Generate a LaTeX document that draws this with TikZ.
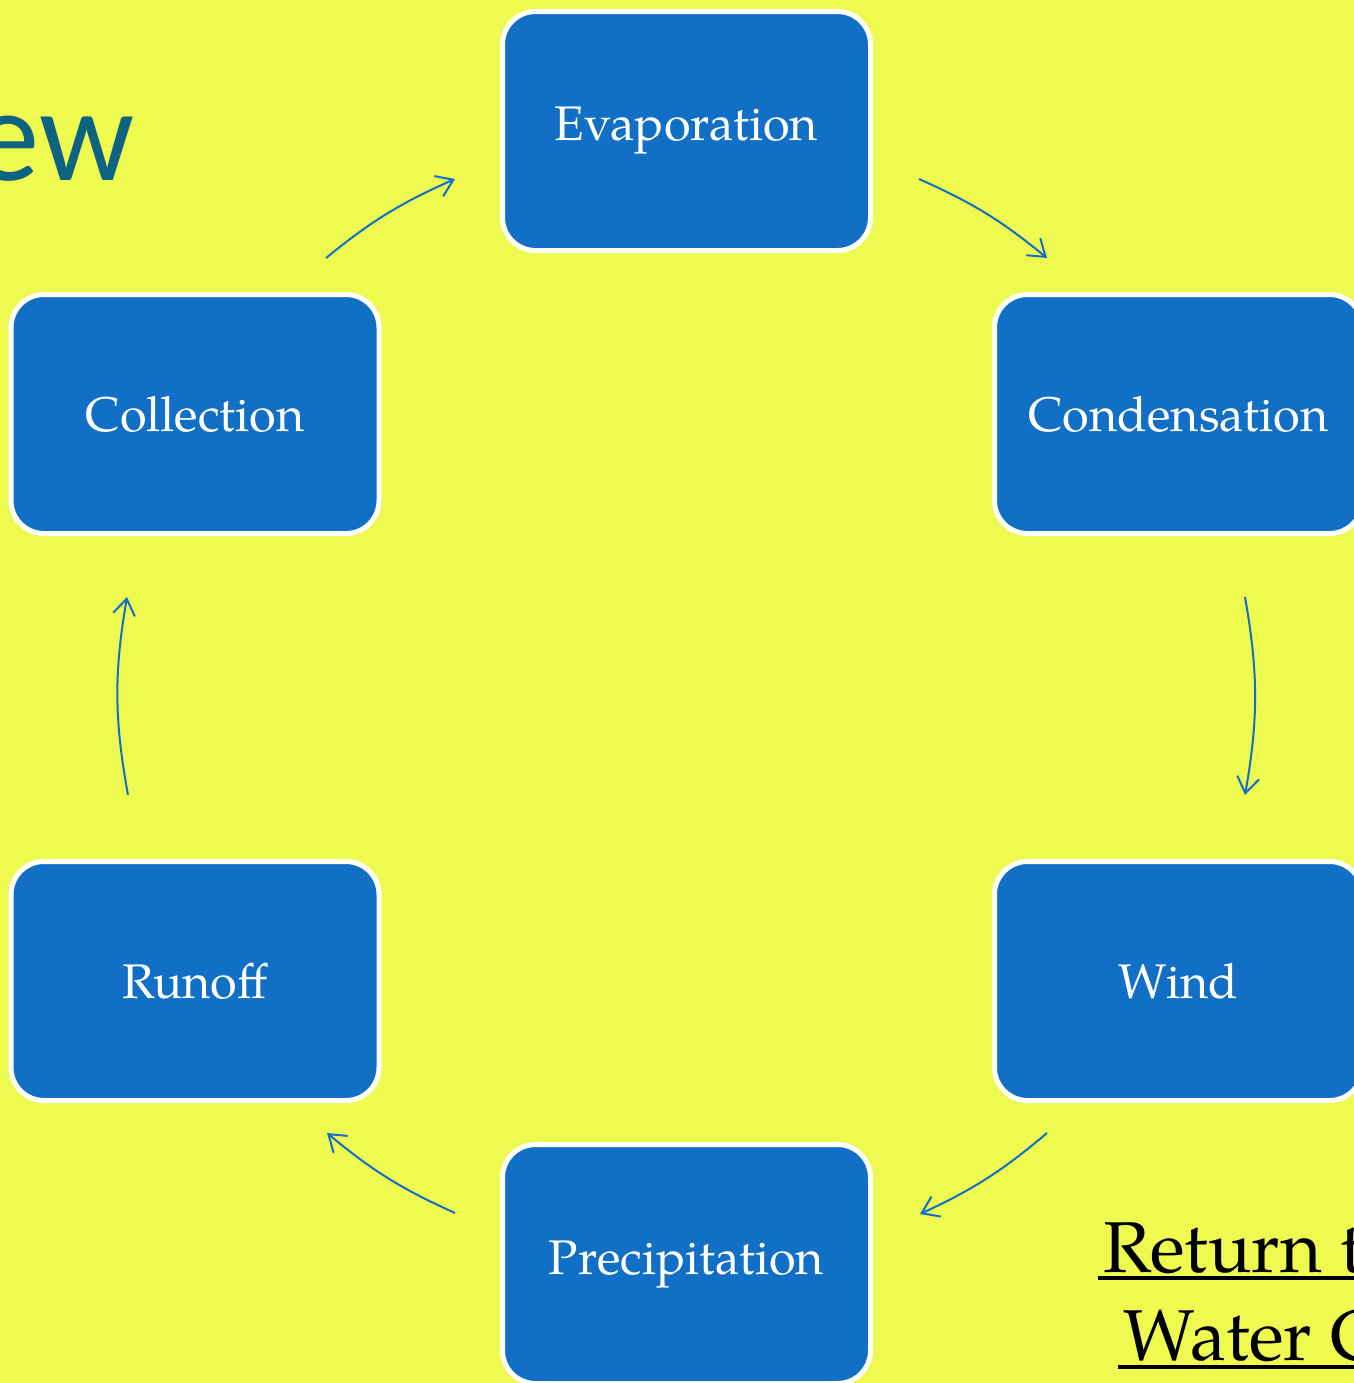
\documentclass[tikz,border=0pt]{standalone}
\usepackage{fontspec}
\setmainfont{TeX Gyre Pagella}
\newfontfamily\carl{Carlito}
\usetikzlibrary{arrows.meta}
\definecolor{bgyellow}{RGB}{238,250,80}
\definecolor{boxblue}{RGB}{17,112,198}
\definecolor{titleteal}{RGB}{13,99,128}
\begin{document}
\begin{tikzpicture}[x=0.5pt,y=-0.5pt,
  stage/.style={draw=white, line width=2.5pt, fill=boxblue, rounded corners=16.5pt,
    minimum width=184pt, minimum height=119.5pt, text=white, inner sep=0pt,
    font=\fontsize{24.3}{29}\selectfont},
  cyc/.style={draw=boxblue, line width=1pt, -{Straight Barb[length=8pt,width=11pt]}},
  retlink/.style={anchor=base west, inner sep=0pt, font=\fontsize{36}{43}\selectfont},
  uline/.style={line width=1.7pt, black}]
\fill[bgyellow] (0,0) rectangle (1354,1383);
\useasboundingbox (0,0) rectangle (1354,1383);

\node[anchor=base east, text=titleteal, font=\carl\fontsize{66.5}{70}\selectfont, inner sep=0pt] (title) at (135,180) {ew};

\node[stage] (evap) at (686.5,131) {Evaporation};
\node[stage] (cond) at (1178.5,414) {Condensation};
\node[stage] (wind) at (1178.5,981) {Wind};
\node[stage] (prec) at (686.5,1264) {Precipitation};
\node[stage] (runoff) at (195,981) {Runoff};
\node[stage] (coll) at (195,414) {Collection};

\coordinate (c1s) at (326,258);  \coordinate (c1e) at (455,179);
\coordinate (c2s) at (919,179);  \coordinate (c2e) at (1047,258);
\coordinate (c3s) at (1245,597); \coordinate (c3e) at (1245,795);
\coordinate (c4s) at (1047,1133); \coordinate (c4e) at (920,1214);
\coordinate (c5s) at (455,1213); \coordinate (c5e) at (327,1133);
\coordinate (c6s) at (128,795);  \coordinate (c6e) at (127,597);

\draw[cyc] (c1s) to[bend left=7.7] (c1e);
\draw[cyc] (c2s) to[bend left=7.7] (c2e);
\draw[cyc] (c3s) to[bend left=10] (c3e);
\draw[cyc] (c4s) to[bend left=7.7] (c4e);
\draw[cyc] (c5s) to[bend left=7.7] (c5e);
\draw[cyc] (c6s) to[bend left=10] (c6e);

\node[retlink] (ret1) at (1103,1272) {Return to the};
\node[retlink] (ret2) at (1123,1360) {Water Cycle};
\draw[uline] ([shift={(-5,6)}]ret1.base west) -- ([shift={(0,6)}]ret1.base east);
\draw[uline] ([shift={(-5,7)}]ret2.base west) -- ([shift={(0,7)}]ret2.base east);
\end{tikzpicture}
\end{document}
